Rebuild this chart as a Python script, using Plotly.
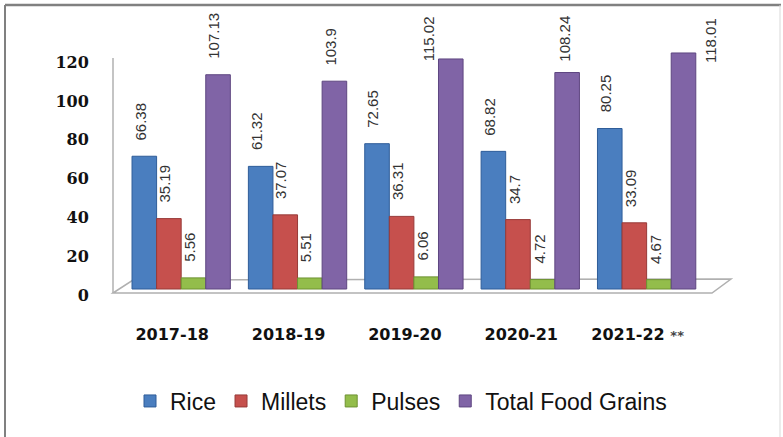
import plotly.graph_objects as go

categories = ["2017-18", "2018-19", "2019-20", "2020-21", "2021-22 **"]
tick_text = ["2017-18", "2018-19", "2019-20", "2020-21",
             "2021-22 <span style='font-size:13px;color:#444'>**</span>"]
rice = [66.38, 61.32, 72.65, 68.82, 80.25]
millets = [35.19, 37.07, 36.31, 34.7, 33.09]
pulses = [5.56, 5.51, 6.06, 4.72, 4.67]
total = [107.13, 103.9, 115.02, 108.24, 118.01]
y_ticks = [0, 20, 40, 60, 80, 100, 120]

series = [("Rice", rice), ("Millets", millets), ("Pulses", pulses), ("Total Food Grains", total)]
fills = ["#4A7EBF", "#C6504D", "#93BD4B", "#8064A6"]
edges = ["#2F5D99", "#973A38", "#6E9232", "#5E4680"]

# plot area in pixels
L, R, T, B = 123, 721, 49, 297
W, H = R - L, B - T
def px(x):
    return (x - L) / W
def py(y):
    return (B - y) / H

BARGAP = 0.155
bw = (1 - BARGAP) / len(series)

fig = go.Figure()
for j, (name, vals) in enumerate(series):
    fig.add_trace(go.Bar(
        x=categories, y=vals, name=name,
        marker=dict(color=fills[j], line=dict(color=edges[j], width=1)),
        hoverinfo="x+y+name",
    ))
# empty trace so the secondary (tick-label) axis is drawn
fig.add_trace(go.Scatter(x=[], y=[], yaxis="y2", showlegend=False, hoverinfo="skip"))

# data labels
overrides = {(3, 1): (-4, 14), (3, 2): (-22, -4), (3, 3): (-3, 9), (3, 4): (27, -12)}
annotations = []
for j, (name, vals) in enumerate(series):
    off = -(1 - BARGAP) / 2 + (j + 0.5) * bw
    for i, v in enumerate(vals):
        xs, ys = overrides.get((j, i), (-4, 14))
        annotations.append(dict(
            x=i + off, y=v, xref="x", yref="y", text=str(v), showarrow=False,
            textangle=-90, xanchor="center", yanchor="bottom",
            xshift=xs, yshift=ys,
            font=dict(family="Liberation Sans, Arial", size=15, color="#333333"),
        ))

shapes = [
    # floor
    dict(type="path", xref="paper", yref="paper", layer="below",
         path=f"M {px(113)},{py(293)} L {px(133)},{py(280)} L {px(731)},{py(279)} L {px(712)},{py(293)} Z",
         line=dict(color="#B0B0B0", width=1.5), fillcolor="white"),
    # vertical axis line
    dict(type="line", xref="paper", yref="paper", layer="below",
         x0=px(113), x1=px(113), y0=py(58), y1=py(293),
         line=dict(color="#B0B0B0", width=1.5)),
    # frame
    dict(type="line", xref="paper", yref="paper", x0=px(5), x1=px(781), y0=py(5), y1=py(5),
         line=dict(color="#808080", width=2.5)),
    dict(type="line", xref="paper", yref="paper", x0=px(5), x1=px(5), y0=py(5), y1=py(440),
         line=dict(color="#808080", width=2)),
    dict(type="line", xref="paper", yref="paper", x0=px(780), x1=px(780), y0=py(5), y1=py(440),
         line=dict(color="#D9D9D9", width=1)),
]

fig.update_layout(
    width=783, height=437,
    margin=dict(l=L, r=783 - R, t=T, b=437 - B, pad=0, autoexpand=False),
    paper_bgcolor="white", plot_bgcolor="rgba(0,0,0,0)",
    barmode="group", bargap=BARGAP, bargroupgap=0,
    showlegend=True,
    legend=dict(orientation="h", x=px(401), xanchor="center", y=py(401), yanchor="middle",
                font=dict(family="Liberation Sans, Arial", size=23, color="#111111"),
                itemwidth=30, traceorder="normal", bgcolor="rgba(0,0,0,0)"),
    xaxis=dict(type="category", showgrid=False, zeroline=False, showline=False,
               tickvals=categories, ticktext=tick_text,
               ticks="outside", ticklen=23, tickcolor="rgba(0,0,0,0)",
               ticklabelshift=-9,
               tickfont=dict(family="DejaVu Sans", size=16, color="#111111", weight="bold")),
    yaxis=dict(range=[-4, 120], showgrid=False, zeroline=False, showline=False,
               showticklabels=False, ticks=""),
    yaxis2=dict(overlaying="y", side="left", range=[-1.03, 126.8],
                tickvals=y_ticks, showgrid=False, zeroline=False, showline=False,
                ticks="outside", ticklen=30, tickcolor="rgba(0,0,0,0)",
                tickfont=dict(family="DejaVu Serif", size=16, color="#111111", weight="bold")),
    annotations=annotations,
    shapes=shapes,
)

fig.write_html("out.html", config={"displayModeBar": False},
               post_script="document.body.style.margin='0';")
